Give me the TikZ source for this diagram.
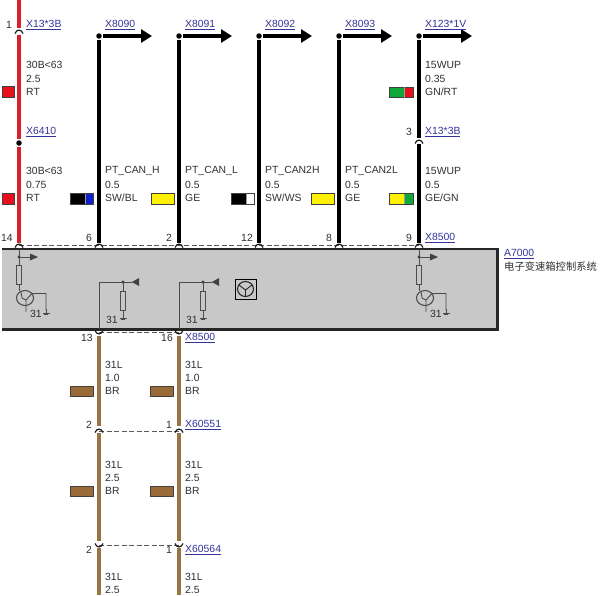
\documentclass[tikz,border=0pt]{standalone}
\usepackage{fontspec}
\setmainfont{Liberation Sans}
\newfontfamily\cjkfont{Noto Sans CJK SC}
\usetikzlibrary{arrows.meta}
\definecolor{wred}{HTML}{D8202A}
\definecolor{wbrown}{HTML}{9A7344}
\definecolor{linkblue}{HTML}{34349C}
\definecolor{txt}{HTML}{303030}
\definecolor{boxgray}{HTML}{C8C8C8}
\definecolor{swred}{HTML}{E8101C}
\definecolor{swyellow}{HTML}{FFF200}
\definecolor{swgreen}{HTML}{10A838}
\definecolor{swblue}{HTML}{1020D0}
\definecolor{swbrown}{HTML}{9A6A38}
\tikzset{
  txtstyle/.style={text=txt,font=\fontsize{10.4}{12}\selectfont,inner sep=0pt,anchor=west},
  linkstyle/.style={text=linkblue,font=\fontsize{10.4}{12}\selectfont,inner sep=0pt,anchor=west},
  pinno/.style={text=txt,font=\fontsize{10.4}{12}\selectfont,inner sep=0pt},
  wirered/.style={draw=wred,line width=4.2pt},
  wireblack/.style={draw=black,line width=4.4pt},
  wirebrown/.style={draw=wbrown,line width=4pt},
  pincap/.style={draw=black!90,line width=1.2pt},
  conn/.style={draw=black!65,dash pattern=on 5pt off 2.5pt,line width=1pt},
  swatch/.style={draw=black!75,line width=0.8pt},
  inner/.style={draw=black!70,line width=0.9pt},
  dotstyle/.style={circle,fill=black,inner sep=0pt,minimum size=5.5pt},
  smalldot/.style={circle,fill=black!75,inner sep=0pt,minimum size=3.2pt},
  sigarrow/.style={draw=black,line width=3.2pt,-{Triangle[length=11pt,width=13pt]}},
}
\newcommand{\capup}[2]{\draw[pincap] (#1-4,#2+2.5) .. controls (#1-2.5,#2-2) and (#1+2.5,#2-2) .. (#1+4,#2+2.5);}
\newcommand{\capdn}[2]{\draw[pincap] (#1-4,#2-2.5) .. controls (#1-2.5,#2+2) and (#1+2.5,#2+2) .. (#1+4,#2-2.5);}
\newcommand{\swa}[4]{\fill[#4] (#1,#2) rectangle (#1+#3,#2+10.5);\draw[swatch] (#1,#2) rectangle (#1+#3,#2+10.5);}
\newcommand{\swb}[5]{\fill[#4] (#1,#2) rectangle (#1+15,#2+10.5);\fill[#5] (#1+15,#2) rectangle (#1+#3,#2+10.5);\draw[swatch] (#1,#2) rectangle (#1+#3,#2+10.5);\draw[swatch,draw=black!40] (#1+15,#2) -- (#1+15,#2+10.5);}
\newcommand{\gnd}[2]{\draw[inner] (#1,#2-3) -- (#1,#2+1) (#1-3.5,#2+1) -- (#1+3.5,#2+1);\draw[inner,line width=0.6pt] (#1-2,#2+2.2) -- (#1+2,#2+2.2);}
\newcommand{\transistorcell}[1]{
  \draw[inner] (#1,249) -- (#1,265);
  \filldraw[inner,fill=boxgray] (#1-2.5,265) rectangle (#1+2.5,284);
  \draw[inner] (#1,284) -- (#1,291);
  \draw[inner,line width=1.1pt] (#1+6,298) circle[x radius=8.5,y radius=7.5];
  \draw[inner] (#1+2,292) -- (#1+3,298) -- (#1+7,300) -- (#1+7,312);
  \draw[inner] (#1+7,300) -- (#1+13,293.500) -- (#1+27,293.500) -- (#1+27,310);
  \gnd{#1+27}{312}
  \node[pinno,anchor=west] at (#1+11,313.500) {31};
  \node[smalldot] at (#1,257) {};
  \draw[inner] (#1,257) -- (#1+11,257);
  \fill[black!75] (#1+11,253.5) -- (#1+19,257) -- (#1+11,260.5) -- cycle;
}
\newcommand{\groundcell}[1]{
  \draw[inner] (#1,329) -- (#1,282) -- (#1+34,282);
  \fill[black!75] (#1+33,282) -- (#1+40,278) -- (#1+40,286) -- cycle;
  \node[smalldot] at (#1+24,282) {};
  \draw[inner] (#1+24,282) -- (#1+24,291);
  \filldraw[inner,fill=boxgray] (#1+21.5,291) rectangle (#1+26.5,310);
  \draw[inner] (#1+24,310) -- (#1+24,316);
  \gnd{#1+24}{317}
  \node[pinno,anchor=west] at (#1+7,320) {31};
}
\begin{document}
\begin{tikzpicture}[x=1pt,y=-1pt]
\useasboundingbox (0,0) rectangle (600,595);
\fill[white] (0,0) rectangle (600,595);
% control unit
\node[fill=boxgray,minimum width=495pt,minimum height=80pt,inner sep=0pt,anchor=north west] (ecu) at (2,249) {};
\draw[draw=black!85,line width=2.4pt] (ecu.north west) -- (ecu.north east) -- (ecu.south east) -- (ecu.south west);
% anchor points
\foreach \n/\x in {b/99,c/179,d/259,e/339,f/419}{
  \node[dotstyle] (top\n) at (\x,36) {};
  \coordinate (bot\n) at (\x,243);
  \coordinate (wt\n) at (\x,40);
  \coordinate (as\n) at (\x+4,36);
}
\coordinate (redtop) at (19,0);
\coordinate (reda) at (19,28);
\coordinate (redb) at (19,35);
\node[dotstyle] (splice) at (19,143) {};
\coordinate (redc) at (19,139);
\coordinate (redd) at (19,147);
\coordinate (redbot) at (19,243);
\coordinate (fa) at (419,138);
\coordinate (fb) at (419,144);
% wires
\draw[wirered] (redtop) -- (reda);
\draw[wirered] (redb) -- (redc);
\draw[wirered] (redd) -- (redbot);
\foreach \n in {b,c,d,e}{ \draw[wireblack] (wt\n) -- (bot\n); }
\draw[wireblack] (wtf) -- (fa);
\draw[wireblack] (fb) -- (botf);
% signal arrows
\foreach \n/\x in {b/99,c/179,d/259,e/339,f/419}{
  \coordinate (arr\n) at (\x+53,36);
  \draw[sigarrow] (as\n) -- (arr\n);
}
% connector dashes
\coordinate (dl) at (19,245); \coordinate (dr) at (419,245);
\draw[conn] (dl) -- (dr);
\foreach \y in {332,431,545}{
  \coordinate (l\y) at (99,\y); \coordinate (r\y) at (179,\y);
  \draw[conn] (l\y) -- (r\y);
}
% brown wires
\foreach \x/\n in {99/g,179/h}{
  \coordinate (\n a) at (\x,336); \coordinate (\n b) at (\x,426);
  \coordinate (\n c) at (\x,433); \coordinate (\n d) at (\x,541);
  \coordinate (\n e) at (\x,548); \coordinate (\n f) at (\x,595);
  \draw[wirebrown] (\n a) -- (\n b);
  \draw[wirebrown] (\n c) -- (\n d);
  \draw[wirebrown] (\n e) -- (\n f);
}
% pin caps
\capup{19}{31}
\capup{419}{141}
\foreach \x in {19,99,179,259,339,419}{ \fill[white] (\x-3,245.500) rectangle (\x+3,247); \capup{\x}{245} }
\foreach \x in {99,179}{ \capdn{\x}{333} \capup{\x}{430} \capdn{\x}{546} }
% internals
\transistorcell{19}
\transistorcell{419}
\groundcell{99}
\groundcell{179}
% symbol
\draw[draw=black,line width=0.9pt] (235,279) rectangle (256,299);
\draw[inner,draw=black!85,line width=1.1pt] (245.500,289) circle[x radius=8,y radius=7.5];
\draw[inner,draw=black!85] (245.500,290) -- (245.500,296) (245.500,290) -- (239,285) (245.500,290) -- (252,285);
% swatches
\swa{2}{86.5}{12}{swred}
\swa{2}{193.5}{12}{swred}
\swb{70}{193.5}{23.5}{black}{swblue}
\swa{151}{193.5}{23}{swyellow}
\swb{231}{193.5}{23}{black}{white}
\swa{311}{193.5}{23}{swyellow}
\swb{389.5}{87}{23.5}{swgreen}{swred}
\swb{389.5}{193.5}{23.5}{swyellow}{swgreen}
\foreach \x in {70,150}{ \swa{\x}{386}{23.5}{swbrown} \swa{\x}{486}{23.5}{swbrown} }
% wire labels
\node[txtstyle] (t1) at (26,65) {30B<63};
\node[txtstyle] (t2) at (26,79) {2.5};
\node[txtstyle] (t3) at (26,92) {RT};
\node[txtstyle] (t4) at (26,171) {30B<63};
\node[txtstyle] (t5) at (26,185) {0.75};
\node[txtstyle] (t6) at (26,198) {RT};
\foreach \x/\a/\c in {105/PT\_CAN\_H/SW\slash BL,185/PT\_CAN\_L/GE,265/PT\_CAN2H/SW\slash WS,345/PT\_CAN2L/GE,425/15WUP/GE\slash GN}{
  \node[txtstyle] at (\x,171) {\a};
  \node[txtstyle] at (\x,185) {0.5};
  \node[txtstyle] at (\x,198) {\c};
}
\node[txtstyle] (u1) at (425,65) {15WUP};
\node[txtstyle] (u2) at (425,79) {0.35};
\node[txtstyle] (u3) at (425,92) {GN/RT};
\foreach \x in {105,185}{
  \node[txtstyle] at (\x,365) {31L};
  \node[txtstyle] at (\x,378) {1.0};
  \node[txtstyle] at (\x,391) {BR};
  \node[txtstyle] at (\x,465) {31L};
  \node[txtstyle] at (\x,478) {2.5};
  \node[txtstyle] at (\x,491) {BR};
  \node[txtstyle] at (\x,577) {31L};
  \node[txtstyle] at (\x,590) {2.5};
}
% connector labels
\node[linkstyle] (l1) at (26,25) {\underline{X13*3B}};
\node[linkstyle] (l2) at (105,25) {\underline{X8090}};
\node[linkstyle] (l3) at (185,25) {\underline{X8091}};
\node[linkstyle] (l4) at (265,25) {\underline{X8092}};
\node[linkstyle] (l5) at (345,25) {\underline{X8093}};
\node[linkstyle] (l6) at (425,25) {\underline{X123*1V}};
\node[linkstyle] (l7) at (26,132) {\underline{X6410}};
\node[linkstyle] (l8) at (425,132) {\underline{X13*3B}};
\node[linkstyle] (l9) at (425,238) {\underline{X8500}};
\node[linkstyle] (l10) at (185,338) {\underline{X8500}};
\node[linkstyle] (l11) at (185,425) {\underline{X60551}};
\node[linkstyle] (l12) at (185,550) {\underline{X60564}};
\node[linkstyle] (l13) at (504,254) {\underline{A7000}};
\node[txtstyle,font=\cjkfont\fontsize{10.3}{12}\selectfont] (l14) at (504,267) {电子变速箱控制系统};
% pin numbers
\foreach \x/\y/\t in {9/25/1,7/238/14,89/238/6,169/238/2,247/238/12,329/238/8,409/238/9,409/132/3,87/338/13,167/338/16,89/425/2,169/425/1,89/550/2,169/550/1}{
  \node[pinno] at (\x,\y) {\t};
}
\end{tikzpicture}
\end{document}
